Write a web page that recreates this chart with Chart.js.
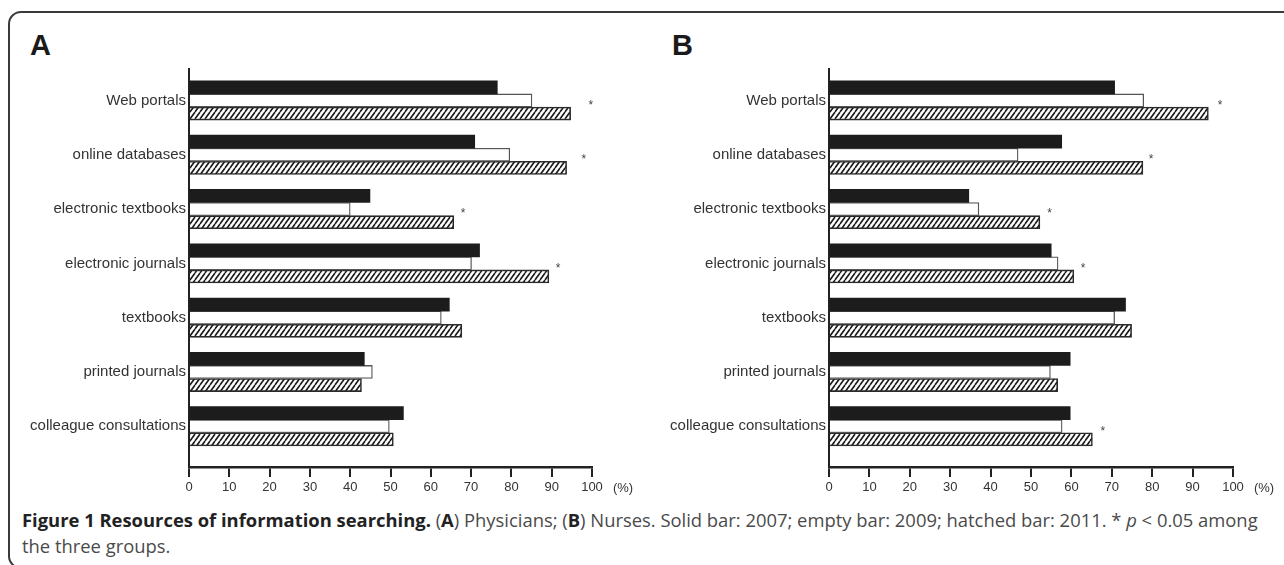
<!DOCTYPE html>
<html>
<head>
<meta charset="utf-8">
<title>Resources of information searching</title>
<script src="https://cdn.jsdelivr.net/npm/chart.js"></script>
<style>
  html, body { margin: 0; padding: 0; background: #fff; }
  body { width: 1284px; height: 565px; position: relative; overflow: hidden; }
  .frame { position: absolute; left: 8px; top: 11px; width: 1320px; height: 558px;
           border: 2px solid #3a3a3a; border-radius: 13px; box-sizing: border-box; }
  .letter { position: absolute; top: 31px; font: bold 29px "Liberation Sans", Arial, sans-serif;
            line-height: 29px; color: #1a1a1a; }
  .box { position: absolute; top: 0; }
  .caption { position: absolute; left: 22px; top: 507px; font-family: "Open Sans", sans-serif;
             font-size: 18.4px; line-height: 26px; color: #4a4a4a; white-space: nowrap; }
  .caption b { color: #222; }
</style>
</head>
<body>
<div class="frame"></div>
<div class="letter" style="left:30px">A</div>
<div class="letter" style="left:672px">B</div>
<div class="box" style="left:20px"><canvas id="chartA" width="620" height="500"></canvas></div>
<div class="box" style="left:660px"><canvas id="chartB" width="620" height="500"></canvas></div>
<div class="caption"><b>Figure 1 Resources of information searching.</b> (<b>A</b>) Physicians; (<b>B</b>) Nurses. Solid bar: 2007; empty bar: 2009; hatched bar: 2011. * <i>p</i> &lt; 0.05 among<br>the three groups.</div>

<script>
// categories, top to bottom
var categories = ['Web portals', 'online databases', 'electronic textbooks', 'electronic journals',
                  'textbooks', 'printed journals', 'colleague consultations'];
var xTicks = [0, 10, 20, 30, 40, 50, 60, 70, 80, 90, 100];

// (A) Physicians, % (solid = 2007, empty = 2009, hatched = 2011)
var physicians2007 = [76.5, 70.9, 44.9, 72.1, 64.6, 43.5, 53.2];
var physicians2009 = [85.1, 79.6, 40.0, 70.1, 62.6, 45.5, 49.7];
var physicians2011 = [94.7, 93.7, 65.7, 89.3, 67.7, 42.8, 50.7];
var physiciansStars = [99.7, 98.0, 68.0, 91.6, null, null, null];

// (B) Nurses, %
var nurses2007 = [70.7, 57.6, 34.6, 55.0, 73.4, 59.7, 59.7];
var nurses2009 = [77.9, 46.8, 37.1, 56.7, 70.7, 54.8, 57.7];
var nurses2011 = [93.9, 77.7, 52.2, 60.6, 74.9, 56.6, 65.2];
var nursesStars = [96.8, 79.7, 54.6, 62.9, null, null, 67.8];

Chart.defaults.font.family = '"Liberation Sans", Arial, sans-serif';
Chart.defaults.color = '#333';

// diagonal hatch for the 2011 bars
function makeHatch() {
    var c = document.createElement('canvas');
    c.width = 5; c.height = 7;
    var g = c.getContext('2d');
    g.fillStyle = '#fff';
    g.fillRect(0, 0, 5, 7);
    g.strokeStyle = '#1a1a1a';
    g.lineWidth = 1.6;
    g.beginPath();
    [-5, 0, 5].forEach(function(dx) { g.moveTo(dx, 7); g.lineTo(dx + 5, 0); });
    g.stroke();
    return g.createPattern(c, 'repeat');
}
var hatch = makeHatch();

// asterisks and the "(%)" unit after the last tick
var annotate = {
    id: 'annotate',
    afterDatasetsDraw: function(chart, args, opts) {
        var ctx = chart.ctx, x = chart.scales.x, y = chart.scales.y;
        ctx.save();
        ctx.textAlign = 'center';
        ctx.textBaseline = 'middle';
        ctx.fillStyle = '#444';
        ctx.font = '12px "Liberation Sans", Arial';
        opts.stars.forEach(function(v, i) {
            if (v != null) ctx.fillText('*', x.getPixelForValue(v), y.getPixelForValue(i) + 5);
        });
        ctx.fillStyle = '#333';
        ctx.font = '13px "Liberation Sans", Arial';
        ctx.fillText('(%)', x.getPixelForValue(100) + 31, x.top + 21);
        ctx.restore();
    }
};

function toPoints(arr) {
    return arr.map(function(v, i) { return { x: v, y: i }; });
}

function makeChart(id, d2007, d2009, d2011, stars, padRight) {
    return new Chart(document.getElementById(id), {
        type: 'bar',
        data: {
            datasets: [
                { label: '2007', data: toPoints(d2007), backgroundColor: '#1c1c1c', borderWidth: 0 },
                { label: '2009', data: toPoints(d2009), backgroundColor: '#fff', borderColor: '#555', borderWidth: 1.3 },
                { label: '2011', data: toPoints(d2011), backgroundColor: hatch, borderColor: '#2a2a2a', borderWidth: 1.6 }
            ]
        },
        options: {
            indexAxis: 'y',
            responsive: false,
            animation: false,
            devicePixelRatio: 1,
            barThickness: 13.1,
            layout: { padding: { top: 69, right: padRight, left: 0, bottom: 0 } },
            plugins: {
                legend: { display: false },
                tooltip: { enabled: false },
                annotate: { stars: stars }
            },
            scales: {
                x: {
                    type: 'linear',
                    min: 0, max: 100,
                    offset: false,
                    afterBuildTicks: function(s) { s.ticks = xTicks.map(function(v) { return { value: v }; }); },
                    afterFit: function(s) { s.height = 33; },
                    ticks: { font: { size: 13 }, color: '#333', padding: 3, maxRotation: 0 },
                    grid: { offset: false, drawOnChartArea: false, drawTicks: true, tickLength: 10, lineWidth: 2, color: '#222' },
                    border: { display: true, width: 2.5, color: '#222' }
                },
                y: {
                    type: 'linear',
                    reverse: true,
                    offset: false,
                    min: -0.58, max: 6.75,
                    afterBuildTicks: function(s) { s.ticks = categories.map(function(c, i) { return { value: i }; }); },
                    afterFit: function(s) { s.width = 169; },
                    ticks: {
                        font: { size: 15 }, color: '#333', padding: 3,
                        callback: function(v) { return categories[v]; }
                    },
                    grid: { offset: false, drawOnChartArea: false, drawTicks: false },
                    border: { display: true, width: 2, color: '#222' }
                }
            }
        },
        plugins: [annotate]
    });
}

makeChart('chartA', physicians2007, physicians2009, physicians2011, physiciansStars, 48);
makeChart('chartB', nurses2007, nurses2009, nurses2011, nursesStars, 47);
</script>
</body>
</html>
